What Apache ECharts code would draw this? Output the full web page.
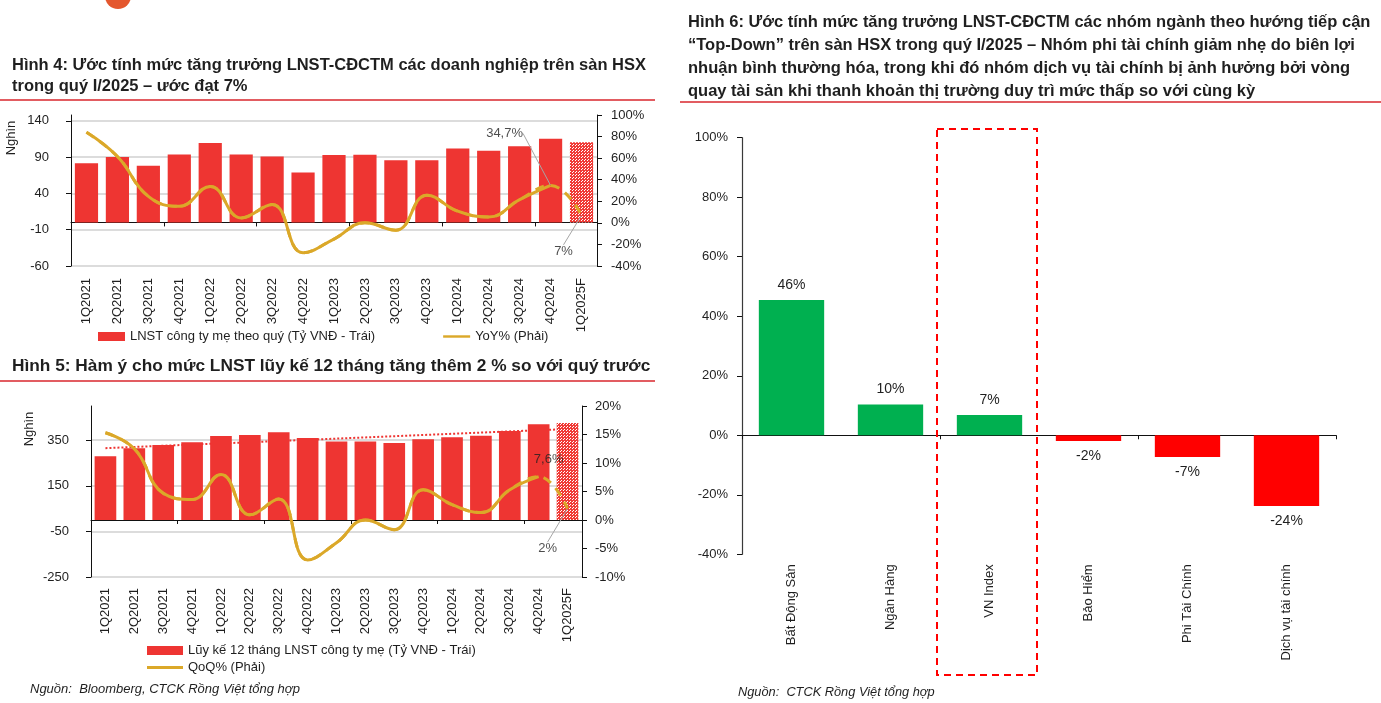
<!DOCTYPE html>
<html>
<head>
<meta charset="utf-8">
<script src="https://cdn.jsdelivr.net/npm/echarts@6/dist/echarts.min.js"></script>
<style>
html, body { margin: 0; padding: 0; background: #fff; }
#main { width: 1381px; height: 703px; }
</style>
</head>
<body>
<div id="main"></div>
<script>
// ---- data ----
const quarters = ['1Q2021', '2Q2021', '3Q2021', '4Q2021', '1Q2022', '2Q2022', '3Q2022', '4Q2022',
  '1Q2023', '2Q2023', '3Q2023', '4Q2023', '1Q2024', '2Q2024', '3Q2024', '4Q2024', '1Q2025F'];

// Hinh 4: quarterly profit (thousand bn VND) and YoY %
const profitQ = [81.7, 90, 78, 93.7, 109.4, 93.7, 91, 68.8, 92.8, 93.2, 85.8, 85.8, 102, 98.8, 104.8, 115.4, 110.3];
const yoy = [84, 61.5, 24.6, 15.4, 33.8, 4.6, 17, -27.7, -15, 0, -6.8, 25.5, 10.8, 5.5, 21.5, 34.7, 7];
const yoyNoteCats = ['4Q2024', '1Q2025F'];
const yoyNoteVals = [34.7, 7];
const yoyNoteText = ['34,7%', '7%'];

// Hinh 5: trailing 12-month profit and QoQ %
const profitTTM = [279.7, 314.6, 329, 340.9, 368.5, 373, 384.6, 359.8, 343.8, 343.8, 338, 354, 362.7, 370, 390.4, 419.5, 425.3];
const qoq = [15.3, 12.5, 4.7, 3.6, 8, 0.9, 3.7, -7, -4, 0, -1.7, 5.3, 2.7, 1.3, 5.3, 7.6, 2];
const trendEnds = [315, 399];
const qoqNoteCats = ['4Q2024', '1Q2025F'];
const qoqNoteVals = [7.6, 2];
const qoqNoteText = ['7,6%', '2%'];

// Hinh 6: sector growth estimates
const sectors = ['Bất Động Sản', 'Ngân Hàng', 'VN Index', 'Bảo Hiểm', 'Phi Tài Chính', 'Dịch vụ tài chính'];
const sectorGrowth = [45.5, 10.3, 6.8, -1.9, -7.3, -23.8];

// ---- styles ----
const RED = '#EE3532';
const GOLD = '#DBA829';
const GREEN = '#00B050';
const TXT = '#1f1f1f';
const FONT = '"Liberation Sans", Arial, sans-serif';

const G4 = { left: 71, top: 115, width: 526, height: 151 };
const G5 = { left: 91, top: 406, width: 491, height: 171 };
const G6 = { left: 742, top: 137.7, width: 594, height: 416.6 };

function dotPattern() {
  const c = document.createElement('canvas');
  c.width = 3; c.height = 3;
  const g = c.getContext('2d');
  g.fillStyle = '#F03A36'; g.fillRect(0, 0, 3, 3);
  g.fillStyle = '#fff';
  g.fillRect(0, 0, 1, 1); g.fillRect(2, 1, 1, 1);
  return { image: c, repeat: 'repeat' };
}
const forecastFill = dotPattern();

let chart = echarts.init(document.getElementById('main'));

const BAR4 = 'LNST công ty mẹ theo quý (Tỷ VNĐ - Trái)';
const LINE4 = 'YoY% (Phải)';
const BAR5 = 'Lũy kế 12 tháng LNST công ty mẹ (Tỷ VNĐ - Trái)';
const LINE5 = 'QoQ% (Phải)';
const LINE_ICON = 'path://M0,0H40V3.6H0Z';

function lineAxis(gridIndex, yIdx, data) {
  return {
    type: 'category', gridIndex: gridIndex, data: data, position: 'bottom',
    axisLine: { onZero: true, onZeroAxisIndex: yIdx, lineStyle: { color: '#111', width: 1 } },
    axisTick: { show: true, length: 4, lineStyle: { color: '#111' } },
    axisLabel: { show: false }, splitLine: { show: false }
  };
}
function labelAxis(gridIndex, data, margin) {
  return {
    type: 'category', gridIndex: gridIndex, data: data, position: 'bottom',
    axisLine: { show: false, onZero: false }, axisTick: { show: false },
    axisLabel: { rotate: 90, margin: margin, fontSize: 13, fontFamily: FONT, color: TXT, interval: 0 },
    splitLine: { show: false }
  };
}
function valueAxis(gridIndex, pos, min, max, interval, fmt, margin, split, showMax) {
  return {
    type: 'value', gridIndex: gridIndex, position: pos, min: min, max: max, interval: interval,
    axisLine: { show: true, lineStyle: { color: '#111' } },
    axisTick: { show: true, length: 5, lineStyle: { color: '#111' } },
    axisLabel: { fontSize: 13, fontFamily: FONT, color: TXT, margin: margin, showMaxLabel: showMax, formatter: fmt },
    splitLine: split ? { show: true, showMaxLine: false, lineStyle: { color: '#dcdcdc', width: 2 } } : { show: false }
  };
}

function noteSeries(name, xIdx, yIdx, cats, vals, texts, offsets, lines) {
  return {
    name: name, type: 'scatter', xAxisIndex: xIdx, yAxisIndex: yIdx,
    symbolSize: 1, itemStyle: { color: 'rgba(0,0,0,0)' }, z: 6, silent: true,
    data: cats.map((c, i) => ({
      value: [c, vals[i]],
      label: { position: offsets[i][2] },
      labelLine: { show: lines[i] }
    })),
    label: {
      show: true, fontSize: 13, fontFamily: FONT, color: TXT,
      formatter: p => texts[p.dataIndex]
    },
    labelLine: { show: true, lineStyle: { color: '#a6a6a6', width: 1 } },
    labelLayout: p => ({ dx: offsets[p.dataIndex][0], dy: offsets[p.dataIndex][1] })
  };
}

const g6Band = G6.width / sectors.length;
const vnIdx = sectors.indexOf('VN Index');

option = {
  backgroundColor: '#fff',
  animation: false,
  textStyle: { fontFamily: FONT },
  title: [
    {
      text: 'Hình 4: Ước tính mức tăng trưởng LNST-CĐCTM các doanh nghiệp trên sàn HSX\ntrong quý I/2025 – ước đạt 7%',
      left: 12, top: 55, padding: 0,
      textStyle: { fontWeight: 'bold', fontSize: 16.5, lineHeight: 21, color: TXT }
    },
    {
      text: 'Hình 5: Hàm ý cho mức LNST lũy kế 12 tháng tăng thêm 2 % so với quý trước',
      left: 12, top: 356, padding: 0,
      textStyle: { fontWeight: 'bold', fontSize: 17.3, lineHeight: 21, color: TXT }
    },
    {
      text: 'Hình 6: Ước tính mức tăng trưởng LNST-CĐCTM các nhóm ngành theo hướng tiếp cận\n“Top-Down” trên sàn HSX trong quý I/2025 – Nhóm phi tài chính giảm nhẹ do biên lợi\nnhuận bình thường hóa, trong khi đó nhóm dịch vụ tài chính bị ảnh hưởng bởi vòng\nquay tài sản khi thanh khoản thị trường duy trì mức thấp so với cùng kỳ',
      left: 688, top: 11, padding: 0,
      textStyle: { fontWeight: 'bold', fontSize: 16.5, lineHeight: 23, color: TXT }
    }
  ],
  legend: [
    {
      data: [{ name: BAR4, icon: 'rect' }, { name: LINE4, icon: LINE_ICON }],
      left: 98, top: 330, padding: 0, itemWidth: 27, itemHeight: 9, itemGap: 68,
      textStyle: { fontSize: 13, fontFamily: FONT, color: TXT }
    },
    {
      data: [{ name: BAR5, icon: 'rect' }, { name: LINE5, icon: LINE_ICON }],
      orient: 'vertical', left: 147, top: 644, padding: 0, itemWidth: 36, itemHeight: 9, itemGap: 4,
      textStyle: { fontSize: 13, fontFamily: FONT, color: TXT }
    }
  ],
  grid: [
    Object.assign({ containLabel: false }, G4),
    Object.assign({ containLabel: false }, G5),
    Object.assign({ containLabel: false }, G6)
  ],
  xAxis: [
    lineAxis(0, 0, quarters),
    labelAxis(0, quarters, 12),
    lineAxis(1, 2, quarters),
    labelAxis(1, quarters, 11),
    lineAxis(2, 4, sectors),
    labelAxis(2, sectors, 10)
  ],
  yAxis: [
    valueAxis(0, 'left', -60, 148, 50, '{value}', 22, true, false),
    valueAxis(0, 'right', -40, 100, 20, '{value}%', 14, false, true),
    valueAxis(1, 'left', -250, 500, 200, '{value}', 22, true, false),
    valueAxis(1, 'right', -10, 20, 5, '{value}%', 13, false, true),
    Object.assign(valueAxis(2, 'left', -40, 100, 20, '{value}%', 14, false, true), {
      axisLine: { show: true, lineStyle: { color: '#3a3a3a', width: 1.2 } }
    })
  ],
  series: [
    // ---- Hinh 4 ----
    {
      name: BAR4, type: 'bar', xAxisIndex: 0, yAxisIndex: 0, barCategoryGap: '25%',
      itemStyle: { color: RED },
      data: profitQ.map((v, i) => i === profitQ.length - 1 ? { value: v, itemStyle: { color: forecastFill } } : v)
    },
    {
      name: 'YoY dự phóng', type: 'line', xAxisIndex: 0, yAxisIndex: 1, smooth: 0.45,
      symbol: 'none', z: 3, lineStyle: { color: GOLD, width: 3, type: [9, 7] }, itemStyle: { color: GOLD },
      data: yoy
    },
    {
      name: LINE4, type: 'line', xAxisIndex: 0, yAxisIndex: 1, smooth: 0.45,
      symbol: 'none', z: 4, lineStyle: { color: GOLD, width: 3 }, itemStyle: { color: GOLD },
      data: yoy.slice(0, -1)
    },
    noteSeries('YoY note', 0, 1, yoyNoteCats, yoyNoteVals, yoyNoteText,
      [[-46, -40, 'top'], [-18, 24, 'bottom']], [true, true]),

    // ---- Hinh 5 ----
    {
      name: 'Trend', type: 'line', xAxisIndex: 2, yAxisIndex: 2, z: 1, symbol: 'none', silent: true,
      lineStyle: { color: RED, width: 2, type: 'dotted' },
      data: [[quarters[0], trendEnds[0]], [quarters[quarters.length - 1], trendEnds[1]]]
    },
    {
      name: BAR5, type: 'bar', xAxisIndex: 2, yAxisIndex: 2, barCategoryGap: '25%', z: 2,
      itemStyle: { color: RED },
      data: profitTTM.map((v, i) => i === profitTTM.length - 1 ? { value: v, itemStyle: { color: forecastFill } } : v)
    },
    {
      name: 'QoQ dự phóng', type: 'line', xAxisIndex: 2, yAxisIndex: 3, smooth: 0.45,
      symbol: 'none', z: 3, lineStyle: { color: GOLD, width: 3, type: [9, 7] }, itemStyle: { color: GOLD },
      data: qoq
    },
    {
      name: LINE5, type: 'line', xAxisIndex: 2, yAxisIndex: 3, smooth: 0.45,
      symbol: 'none', z: 4, lineStyle: { color: GOLD, width: 3 }, itemStyle: { color: GOLD },
      data: qoq.slice(0, -1)
    },
    noteSeries('QoQ note', 2, 3, qoqNoteCats, qoqNoteVals, qoqNoteText,
      [[10, -5, 'top'], [-20, 28, 'bottom']], [false, true]),

    // ---- Hinh 6 ----
    {
      name: 'Tăng trưởng', type: 'bar', xAxisIndex: 4, yAxisIndex: 4, barCategoryGap: '34%',
      data: sectorGrowth.map(v => ({
        value: v,
        itemStyle: { color: v >= 0 ? GREEN : '#FF0000' },
        label: { position: v >= 0 ? 'top' : 'bottom' }
      })),
      label: {
        show: true, distance: 8, fontSize: 14, fontFamily: FONT, color: TXT,
        formatter: p => Math.round(p.value) + '%'
      }
    }
  ],
  graphic: [
    { type: 'circle', shape: { cx: 118, cy: -4, r: 13 }, style: { fill: '#E4572E' } },
    { type: 'line', shape: { x1: 0, y1: 100, x2: 655, y2: 100 }, style: { stroke: '#D9262C', lineWidth: 1.5 } },
    { type: 'line', shape: { x1: 0, y1: 381, x2: 655, y2: 381 }, style: { stroke: '#D9262C', lineWidth: 1.5 } },
    { type: 'line', shape: { x1: 680, y1: 102, x2: 1381, y2: 102 }, style: { stroke: '#D9262C', lineWidth: 1.5 } },
    {
      type: 'text', x: 11, y: 138, rotation: Math.PI / 2,
      style: { text: 'Nghìn', font: '13px ' + FONT, fill: TXT, align: 'center', verticalAlign: 'middle' }
    },
    {
      type: 'text', x: 29, y: 429, rotation: Math.PI / 2,
      style: { text: 'Nghìn', font: '13px ' + FONT, fill: TXT, align: 'center', verticalAlign: 'middle' }
    },
    {
      type: 'rect', z: 10, silent: true,
      shape: { x: G6.left + vnIdx * g6Band - 3, y: 129, width: g6Band + 1, height: 546 },
      style: { fill: 'none', stroke: '#FF0000', lineWidth: 2, lineDash: [7, 5] }
    },
    {
      type: 'text', x: 30, y: 689,
      style: { text: 'Nguồn:  Bloomberg, CTCK Rồng Việt tổng hợp', font: 'italic 13px ' + FONT, fill: TXT, verticalAlign: 'middle' }
    },
    {
      type: 'text', x: 738, y: 692,
      style: { text: 'Nguồn:  CTCK Rồng Việt tổng hợp', font: 'italic 12.8px ' + FONT, fill: TXT, verticalAlign: 'middle' }
    }
  ]
};

chart.setOption(option);

window.onresize = function() {
  chart.resize();
}
</script>
</body>
</html>
